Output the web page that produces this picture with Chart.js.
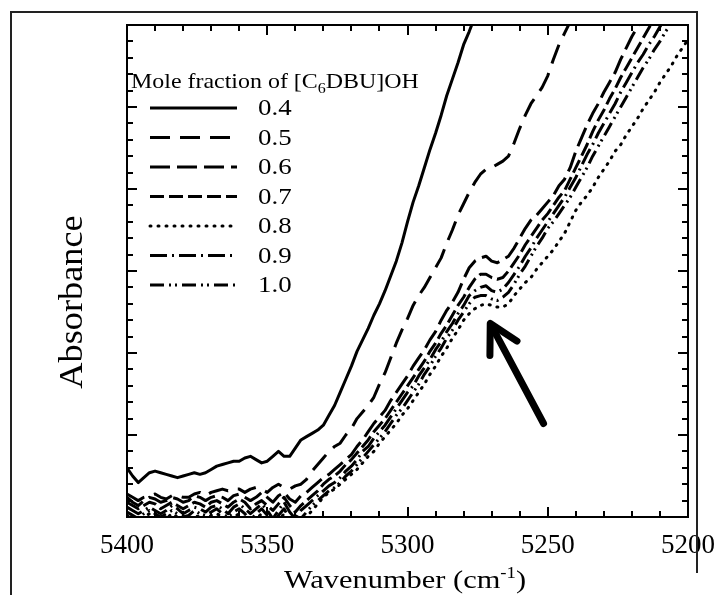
<!DOCTYPE html>
<html><head><meta charset="utf-8">
<script src="https://cdn.jsdelivr.net/npm/chart.js@4/dist/chart.umd.min.js"></script>
<style>html,body{margin:0;padding:0;background:#fff}#wrap{width:721px;height:595px}</style>
</head><body><div id="wrap"><canvas id="c" width="721" height="595"></canvas></div>
<script>
// ---- data ----
const wavenumbers = [
5400,5398,5396,5394,5392,5390,5388,5386,5384,5382,
5380,5378,5376,5374,5372,5370,5368,5366,5364,5362,
5360,5358,5356,5354,5352,5350,5348,5346,5344,5342,
5340,5338,5336,5334,5332,5330,5328,5326,5324,5322,
5320,5318,5316,5314,5312,5310,5308,5306,5304,5302,
5300,5298,5296,5294,5292,5290,5288,5286,5284,5282,
5280,5278,5276,5274,5272,5270,5268,5266,5264,5262,
5260,5258,5256,5254,5252,5250,5248,5246,5244,5242,
5240,5238,5236,5234,5232,5230,5228,5226,5224,5222,
5220,5218,5216,5214,5212,5210,5208,5206,5204,5202,
5200];
const fractions = ['0.4','0.5','0.6','0.7','0.8','0.9','1.0'];
const xTicks = [5400,5350,5300,5250,5200];
const s04 = [0.30,0.25,0.21,0.24,0.27,0.28,0.27,0.26,0.25,0.24,0.25,0.26,0.27,0.26,0.27,0.29,0.31,0.32,0.33,0.34,0.34,0.36,0.37,0.35,0.33,0.34,0.37,0.40,0.37,0.37,0.42,0.47,0.49,0.51,0.53,0.56,0.62,0.68,0.76,0.84,0.92,1.01,1.08,1.15,1.23,1.30,1.38,1.47,1.56,1.67,1.80,1.92,2.02,2.13,2.24,2.34,2.45,2.57,2.67,2.77,2.88,2.96,3.05];
const s05 = [0.14,0.12,0.10,0.12,0.13,0.14,0.12,0.11,0.13,0.13,0.12,0.12,0.14,0.15,0.13,0.15,0.16,0.17,0.16,0.17,0.17,0.15,0.17,0.18,0.17,0.15,0.18,0.20,0.18,0.17,0.19,0.20,0.23,0.28,0.32,0.36,0.40,0.43,0.45,0.50,0.54,0.60,0.64,0.68,0.73,0.81,0.88,0.97,1.06,1.14,1.21,1.29,1.35,1.40,1.46,1.52,1.58,1.67,1.75,1.84,1.91,1.98,2.04,2.09,2.12,2.13,2.15,2.17,2.20,2.28,2.37,2.45,2.52,2.57,2.62,2.69,2.79,2.88,2.95,3.02];
const s06 = [0.12,0.09,0.07,0.10,0.12,0.11,0.09,0.10,0.12,0.11,0.09,0.10,0.13,0.12,0.10,0.12,0.13,0.12,0.10,0.13,0.14,0.12,0.10,0.12,0.15,0.12,0.09,0.13,0.15,0.11,0.09,0.13,0.15,0.18,0.21,0.24,0.26,0.29,0.32,0.35,0.38,0.43,0.47,0.52,0.57,0.61,0.65,0.71,0.76,0.81,0.86,0.92,0.97,1.02,1.08,1.13,1.20,1.26,1.31,1.37,1.45,1.52,1.56,1.58,1.59,1.56,1.55,1.57,1.59,1.64,1.70,1.76,1.81,1.84,1.88,1.92,1.96,2.02,2.06,2.13,2.23,2.31,2.39,2.46,2.52,2.59,2.65,2.71,2.79,2.86,2.93,2.99,3.06];
const s07 = [0.09,0.07,0.05,0.07,0.09,0.08,0.05,0.07,0.09,0.07,0.05,0.07,0.09,0.08,0.06,0.09,0.10,0.08,0.06,0.09,0.11,0.09,0.05,0.08,0.10,0.07,0.04,0.08,0.12,0.07,0.03,0.07,0.10,0.13,0.16,0.20,0.23,0.25,0.28,0.32,0.35,0.39,0.43,0.47,0.52,0.56,0.60,0.65,0.70,0.75,0.80,0.85,0.90,0.95,1.01,1.06,1.12,1.17,1.23,1.29,1.34,1.40,1.45,1.48,1.48,1.46,1.45,1.46,1.50,1.55,1.60,1.66,1.71,1.76,1.81,1.85,1.90,1.95,1.99,2.06,2.13,2.20,2.27,2.35,2.42,2.48,2.55,2.61,2.68,2.74,2.80,2.86,2.92,2.98,3.04];
const s08 = [0.01,-0.01,-0.02,0.00,0.02,0.00,-0.02,-0.01,0.02,0.00,-0.02,-0.01,0.01,0.00,-0.02,0.01,0.02,0.00,-0.03,0.00,0.02,-0.01,-0.05,-0.01,0.02,-0.02,-0.08,-0.02,0.02,-0.04,-0.09,-0.04,0.00,0.04,0.08,0.12,0.15,0.17,0.20,0.23,0.26,0.29,0.33,0.37,0.40,0.45,0.49,0.53,0.57,0.62,0.66,0.71,0.76,0.81,0.87,0.92,0.98,1.03,1.09,1.14,1.20,1.24,1.27,1.29,1.30,1.29,1.28,1.28,1.30,1.35,1.39,1.43,1.46,1.51,1.55,1.59,1.63,1.68,1.73,1.80,1.87,1.92,1.96,2.01,2.07,2.12,2.17,2.23,2.27,2.33,2.38,2.43,2.49,2.54,2.59,2.65,2.70,2.75,2.81,2.86,2.91];
const s09 = [0.06,0.04,0.02,0.04,0.06,0.04,0.02,0.04,0.07,0.05,0.02,0.04,0.06,0.05,0.03,0.06,0.07,0.05,0.02,0.06,0.08,0.05,0.02,0.05,0.08,0.04,-0.01,0.04,0.09,0.03,-0.01,0.04,0.07,0.10,0.13,0.16,0.19,0.21,0.24,0.28,0.31,0.35,0.40,0.43,0.48,0.52,0.56,0.61,0.66,0.71,0.76,0.80,0.86,0.91,0.96,1.02,1.07,1.13,1.18,1.24,1.29,1.35,1.38,1.40,1.41,1.38,1.37,1.39,1.43,1.48,1.53,1.59,1.64,1.70,1.75,1.80,1.85,1.90,1.95,2.01,2.07,2.14,2.21,2.27,2.34,2.40,2.46,2.52,2.59,2.65,2.71,2.77,2.82,2.88,2.93,2.99,3.04];
const s10 = [0.03,0.01,-0.01,0.02,0.04,0.02,0.00,0.02,0.04,0.02,0.00,0.01,0.04,0.02,0.01,0.03,0.05,0.02,0.00,0.03,0.05,0.02,-0.02,0.02,0.05,0.01,-0.04,0.01,0.05,-0.01,-0.05,-0.01,0.03,0.07,0.10,0.13,0.16,0.18,0.21,0.25,0.28,0.32,0.36,0.40,0.44,0.48,0.52,0.57,0.62,0.66,0.71,0.76,0.81,0.87,0.92,0.98,1.03,1.09,1.14,1.20,1.25,1.30,1.34,1.35,1.35,1.33,1.32,1.34,1.37,1.42,1.48,1.53,1.59,1.65,1.70,1.76,1.80,1.85,1.90,1.95,2.01,2.07,2.13,2.20,2.26,2.32,2.38,2.44,2.50,2.56,2.62,2.68,2.74,2.79,2.85,2.90,2.96,3.01,3.07];
// arrow annotation (data coordinates: wavenumber, absorbance)
const arrowTail = [5251.5, 0.57];
const arrowTip = [5270.5, 1.18];

// ---- styles ----
const seriesList = [s04, s05, s06, s07, s08, s09, s10];
const dashes = [[], [20, 10], [20, 7], [14, 5], [1, 7], [17, 5, 2, 5], [14, 5, 2, 4, 2, 5]];
const SERIF = '"Liberation Serif", "DejaVu Serif", serif';

const datasets = seriesList.map((arr, k) => ({
  label: fractions[k],
  data: arr.map((v, i) => ({x: wavenumbers[i], y: v})),
  borderColor: '#000',
  borderWidth: 3,
  borderDash: dashes[k],
  borderCapStyle: k === 4 ? 'round' : 'butt',
  borderJoinStyle: 'round',
  pointRadius: 0,
  tension: 0,
  fill: false,
  clip: 0
}));

// draw text stretched horizontally by factor k, left-aligned at x
function wideText(ctx, txt, x, y, k) {
  ctx.save(); ctx.translate(x, y); ctx.scale(k, 1); ctx.fillText(txt, 0, 0); ctx.restore();
  return ctx.measureText(txt).width * k;
}

const framePlugin = {
  id: 'frame',
  afterDraw(chart) {
    const ctx = chart.ctx, a = chart.chartArea, sx = chart.scales.x, sy = chart.scales.y;
    ctx.save();
    // outer frame
    ctx.strokeStyle = '#222'; ctx.lineWidth = 2;
    ctx.beginPath();
    ctx.moveTo(11, 595); ctx.lineTo(11, 12); ctx.lineTo(697, 12); ctx.lineTo(697, 573);
    ctx.stroke();
    // plot border
    ctx.strokeStyle = '#000'; ctx.lineWidth = 2;
    ctx.strokeRect(a.left, a.top, a.right - a.left, a.bottom - a.top);
    // ticks (inward)
    ctx.beginPath();
    for (let w = 5200; w <= 5400; w += 10) {
      const px = Math.round(sx.getPixelForValue(w));
      const len = (w % 50 === 0) ? 10 : 6;
      ctx.moveTo(px, a.bottom); ctx.lineTo(px, a.bottom - len);
      ctx.moveTo(px, a.top); ctx.lineTo(px, a.top + len);
    }
    for (let k = 0; k <= 30; k++) {
      const py = Math.round(sy.getPixelForValue(k / 10));
      const len = (k % 5 === 0) ? 10 : 6;
      ctx.moveTo(a.left, py); ctx.lineTo(a.left + len, py);
      ctx.moveTo(a.right, py); ctx.lineTo(a.right - len, py);
    }
    ctx.stroke();

    ctx.fillStyle = '#000';
    // y axis title (rotated)
    ctx.save();
    ctx.font = '33px ' + SERIF; ctx.textBaseline = 'middle'; ctx.textAlign = 'center';
    ctx.translate(73, 302); ctx.rotate(-Math.PI / 2); ctx.scale(1.1, 1);
    ctx.fillText('Absorbance', 0, 0);
    ctx.restore();

    // x axis title with superscript
    ctx.textBaseline = 'alphabetic';
    const K = 1.17;
    const f1 = '26px ' + SERIF, f2 = '16px ' + SERIF;
    const p1 = 'Wavenumber (cm', p2 = '-1', p3 = ')';
    ctx.font = f1; const w1 = ctx.measureText(p1).width * K, w3 = ctx.measureText(p3).width * K;
    ctx.font = f2; const w2 = ctx.measureText(p2).width * K;
    let tx = 405 - (w1 + w2 + w3) / 2; const ty = 588;
    ctx.font = f1; wideText(ctx, p1, tx, ty, K); tx += w1;
    ctx.font = f2; wideText(ctx, p2, tx, ty - 10, K); tx += w2;
    ctx.font = f1; wideText(ctx, p3, tx, ty, K);

    // legend
    ctx.textBaseline = 'middle';
    const t1 = 'Mole fraction of [C', t2 = '6', t3 = 'DBU]OH';
    let lt = a.left + 4;
    ctx.font = '21px ' + SERIF; lt += wideText(ctx, t1, lt, 82, 1.14);
    ctx.font = '14px ' + SERIF; lt += wideText(ctx, t2, lt, 89, 1.14);
    ctx.font = '21px ' + SERIF; wideText(ctx, t3, lt, 82, 1.14);
    chart.data.datasets.forEach((ds, k) => {
      const yy = 108 + k * 29.5;
      ctx.save();
      ctx.strokeStyle = '#000'; ctx.lineWidth = 3;
      ctx.setLineDash(ds.borderDash);
      ctx.lineCap = ds.borderCapStyle;
      ctx.beginPath(); ctx.moveTo(a.left + 23, yy); ctx.lineTo(a.left + 110, yy); ctx.stroke();
      ctx.restore();
      ctx.font = '24px ' + SERIF;
      wideText(ctx, ds.label, a.left + 131, yy + 1, 1.12);
    });

    // arrow
    const x1 = sx.getPixelForValue(arrowTail[0]), y1 = sy.getPixelForValue(arrowTail[1]);
    const x2 = sx.getPixelForValue(arrowTip[0]), y2 = sy.getPixelForValue(arrowTip[1]);
    const ang = Math.atan2(y1 - y2, x1 - x2);
    ctx.strokeStyle = '#000'; ctx.lineWidth = 7; ctx.lineCap = 'round'; ctx.lineJoin = 'round';
    ctx.beginPath(); ctx.moveTo(x1, y1); ctx.lineTo(x2 + 3 * Math.cos(ang), y2 + 3 * Math.sin(ang)); ctx.stroke();
    const hl = 32, spread = 0.5;
    ctx.beginPath();
    ctx.moveTo(x2 + hl * Math.cos(ang - spread), y2 + hl * Math.sin(ang - spread));
    ctx.lineTo(x2, y2);
    ctx.lineTo(x2 + hl * Math.cos(ang + spread), y2 + hl * Math.sin(ang + spread));
    ctx.stroke();
    ctx.restore();
  }
};

new Chart(document.getElementById('c'), {
  type: 'line',
  data: { datasets },
  options: {
    responsive: false,
    animation: false,
    devicePixelRatio: 1,
    layout: { padding: { left: 51, right: 33, top: 25, bottom: 0 } },
    plugins: { legend: { display: false }, tooltip: { enabled: false } },
    scales: {
      x: {
        type: 'linear', reverse: true, min: 5200, max: 5400,
        grid: { display: false, drawTicks: false },
        border: { display: false },
        ticks: {
          stepSize: 50, padding: 13, color: '#000', maxRotation: 0,
          font: { family: SERIF, size: 27 },
          callback: (v) => xTicks.includes(v) ? String(v) : ''
        },
        afterFit(s) { s.height = 78; s.paddingLeft = 0; s.paddingRight = 0; s.paddingTop = 0; s.paddingBottom = 0; }
      },
      y: {
        type: 'linear', min: 0, max: 3,
        grid: { display: false, drawTicks: false },
        border: { display: false },
        ticks: { display: false, stepSize: 0.5 },
        afterFit(s) { s.width = 76; }
      }
    }
  },
  plugins: [framePlugin]
});
</script>
</body></html>
